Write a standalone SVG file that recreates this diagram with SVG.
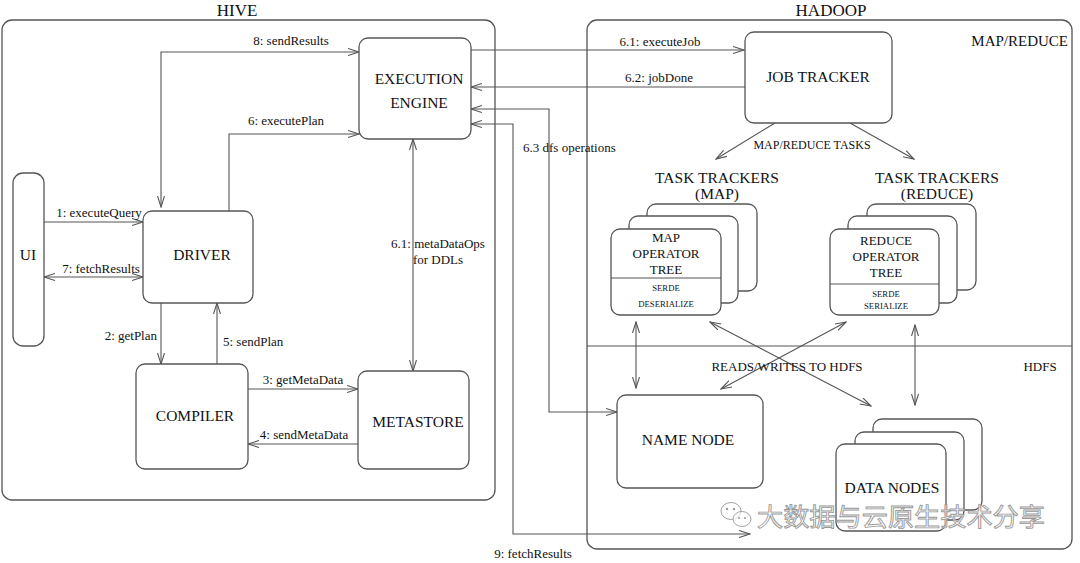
<svg xmlns="http://www.w3.org/2000/svg" width="1080" height="563" viewBox="0 0 1080 563">
<style>
  .frame { fill: none; stroke: #555; stroke-width: 1.3; }
  .box { fill: #fff; stroke: #555; stroke-width: 1.3; }
  .ln { fill: none; stroke: #555; stroke-width: 1.1; }
  .big { font-family: "Liberation Serif", "Times New Roman", serif; font-size: 15.5px; fill: #111; text-anchor: middle; }
  .hdr { font-family: "Liberation Serif", "Times New Roman", serif; font-size: 17px; fill: #111; text-anchor: middle; }
  .lbl { font-family: "Liberation Serif", "Times New Roman", serif; font-size: 13px; fill: #111; text-anchor: middle; }
  .mid { font-family: "Liberation Serif", "Times New Roman", serif; font-size: 13px; fill: #111; text-anchor: middle; }
  .sm { font-family: "Liberation Serif", "Times New Roman", serif; font-size: 8.7px; fill: #111; text-anchor: middle; }
  .wm { font-family: "Noto Sans CJK SC", "Noto Sans", sans-serif; font-size: 25px; fill: #fff; fill-opacity: 0.7; stroke: #999; stroke-width: 0.9; }
</style>
<defs>
  <marker id="ah" viewBox="0 0 12 8" refX="11" refY="4" markerWidth="12" markerHeight="8" markerUnits="userSpaceOnUse" orient="auto-start-reverse">
    <path d="M0,0.5 L11,4 L0,7.5" fill="none" stroke="#555" stroke-width="1.1"/>
  </marker>
</defs>
<rect width="1080" height="563" fill="#fff"/>

<!-- containers -->
<g id="hive">
  <rect class="frame" x="2" y="20" width="493" height="480" rx="10"/>
  <text class="hdr" x="237" y="16">HIVE</text>
</g>
<g id="hadoop">
  <rect class="frame" x="587" y="20" width="485" height="529" rx="10"/>
  <text class="hdr" x="831" y="16">HADOOP</text>
  <text class="big" x="1068" y="46" style="text-anchor:end;font-size:15px">MAP/REDUCE</text>
  <line class="ln" x1="587" y1="346" x2="1072" y2="346"/>
  <text class="mid" x="1040" y="371">HDFS</text>
</g>

<!-- connectors -->
<g id="connectors">
  <path class="ln" d="M161,207 V52 H359" marker-start="url(#ah)" marker-end="url(#ah)"/>
  <path class="ln" d="M229,211 V134 H359" marker-end="url(#ah)"/>
  <path class="ln" d="M44,222 H143" marker-end="url(#ah)"/>
  <path class="ln" d="M44,277 H143" marker-start="url(#ah)" marker-end="url(#ah)"/>
  <path class="ln" d="M161,303 V364" marker-end="url(#ah)"/>
  <path class="ln" d="M217,364 V303" marker-end="url(#ah)"/>
  <path class="ln" d="M248,389 H358" marker-end="url(#ah)"/>
  <path class="ln" d="M358,444 H248" marker-end="url(#ah)"/>
  <path class="ln" d="M413,139 V371" marker-start="url(#ah)" marker-end="url(#ah)"/>
  <path class="ln" d="M471,50 H744" marker-end="url(#ah)"/>
  <path class="ln" d="M745,87 H471" marker-end="url(#ah)"/>
  <path class="ln" d="M617,412 H549 V109 H471" marker-start="url(#ah)" marker-end="url(#ah)"/>
  <path class="ln" d="M471,124 H513 V534 H750" marker-start="url(#ah)" marker-end="url(#ah)"/>
  <path class="ln" d="M775,123 L716,159" marker-end="url(#ah)"/>
  <path class="ln" d="M850,123 L914,159" marker-end="url(#ah)"/>
  <path class="ln" d="M636,322 V388" marker-start="url(#ah)" marker-end="url(#ah)"/>
  <path class="ln" d="M915,325 V405" marker-start="url(#ah)" marker-end="url(#ah)"/>
  <path class="ln" d="M710,322 L871,406" marker-start="url(#ah)" marker-end="url(#ah)"/>
  <path class="ln" d="M846,322 L721,389" marker-start="url(#ah)" marker-end="url(#ah)"/>

  <text class="lbl" x="291" y="45">8: sendResults</text>
  <text class="lbl" x="286" y="125">6: executePlan</text>
  <text class="lbl" x="99" y="217">1: executeQuery</text>
  <text class="lbl" x="101" y="273">7: fetchResults</text>
  <text class="lbl" x="157" y="340" style="text-anchor:end">2: getPlan</text>
  <text class="lbl" x="223" y="346" style="text-anchor:start">5: sendPlan</text>
  <text class="lbl" x="303" y="384">3: getMetaData</text>
  <text class="lbl" x="304" y="439">4: sendMetaData</text>
  <text class="lbl" x="438" y="248">6.1: metaDataOps</text>
  <text class="lbl" x="438" y="264">for DDLs</text>
  <text class="lbl" x="523" y="152" style="text-anchor:start">6.3 dfs operations</text>
  <text class="lbl" x="660" y="46">6.1: executeJob</text>
  <text class="lbl" x="659" y="82">6.2: jobDone</text>
  <text class="lbl" x="812" y="149" style="font-size:12px">MAP/REDUCE TASKS</text>
  <text class="lbl" x="787" y="371">READS/WRITES TO HDFS</text>
  <text class="lbl" x="533" y="558">9: fetchResults</text>
</g>

<!-- nodes -->
<g id="ui">
  <rect class="box" x="13" y="173" width="31" height="173" rx="10"/>
  <text class="big" x="28" y="260">UI</text>
</g>
<g id="driver">
  <rect class="box" x="143" y="211" width="110" height="92" rx="9"/>
  <text class="big" x="202" y="260">DRIVER</text>
</g>
<g id="compiler">
  <rect class="box" x="136" y="364" width="112" height="105" rx="9"/>
  <text class="big" x="195" y="421">COMPILER</text>
</g>
<g id="metastore">
  <rect class="box" x="358" y="371" width="111" height="98" rx="9"/>
  <text class="big" x="418" y="427">METASTORE</text>
</g>
<g id="execution-engine">
  <rect class="box" x="359" y="38" width="112" height="101" rx="9"/>
  <text class="big" x="419" y="84">EXECUTION</text>
  <text class="big" x="419" y="108">ENGINE</text>
</g>
<g id="job-tracker">
  <rect class="box" x="745" y="32" width="147" height="91" rx="9"/>
  <text class="big" x="818" y="82">JOB TRACKER</text>
</g>
<g id="task-trackers-map">
  <text class="big" x="717" y="183">TASK TRACKERS</text>
  <text class="big" x="717" y="199">(MAP)</text>
  <rect class="box" x="647" y="204" width="110" height="87" rx="9"/>
  <rect class="box" x="629" y="216" width="109" height="87" rx="9"/>
  <rect class="box" x="611" y="229" width="110" height="86" rx="9"/>
  <line class="ln" x1="611" y1="278" x2="721" y2="278"/>
  <text class="mid" x="666" y="242">MAP</text>
  <text class="mid" x="666" y="258">OPERATOR</text>
  <text class="mid" x="666" y="274">TREE</text>
  <text class="sm" x="666" y="291">SERDE</text>
  <text class="sm" x="666" y="307">DESERIALIZE</text>
</g>
<g id="task-trackers-reduce">
  <text class="big" x="937" y="183">TASK TRACKERS</text>
  <text class="big" x="937" y="199">(REDUCE)</text>
  <rect class="box" x="867" y="204" width="109" height="86" rx="9"/>
  <rect class="box" x="848" y="216" width="109" height="87" rx="9"/>
  <rect class="box" x="830" y="229" width="109" height="86" rx="9"/>
  <line class="ln" x1="830" y1="284" x2="939" y2="284"/>
  <text class="mid" x="886" y="245">REDUCE</text>
  <text class="mid" x="886" y="261">OPERATOR</text>
  <text class="mid" x="886" y="277">TREE</text>
  <text class="sm" x="886" y="297">SERDE</text>
  <text class="sm" x="886" y="309">SERIALIZE</text>
</g>
<g id="name-node">
  <rect class="box" x="617" y="395" width="146" height="93" rx="9"/>
  <text class="big" x="688" y="445">NAME NODE</text>
</g>
<g id="data-nodes">
  <rect class="box" x="873" y="419" width="109" height="91" rx="9"/>
  <rect class="box" x="855" y="432" width="109" height="88" rx="9"/>
  <rect class="box" x="836" y="444" width="110" height="87" rx="9"/>
  <text class="big" x="892" y="493">DATA NODES</text>
</g>

<!-- watermark -->
<g id="watermark">
  <ellipse cx="731" cy="511" rx="10" ry="8.5" fill="#fff" fill-opacity="0.7" stroke="#999" stroke-width="0.9"/>
  <ellipse cx="742" cy="519" rx="9" ry="7.5" fill="#fff" fill-opacity="0.7" stroke="#999" stroke-width="0.9"/>
  <circle cx="727" cy="509" r="1.2" fill="#999"/>
  <circle cx="734" cy="509" r="1.2" fill="#999"/>
  <circle cx="739" cy="518" r="1" fill="#999"/>
  <circle cx="745" cy="518" r="1" fill="#999"/>
  <text class="wm" x="757" y="526" textLength="288" lengthAdjust="spacingAndGlyphs">大数据与云原生技术分享</text>
</g>
</svg>
